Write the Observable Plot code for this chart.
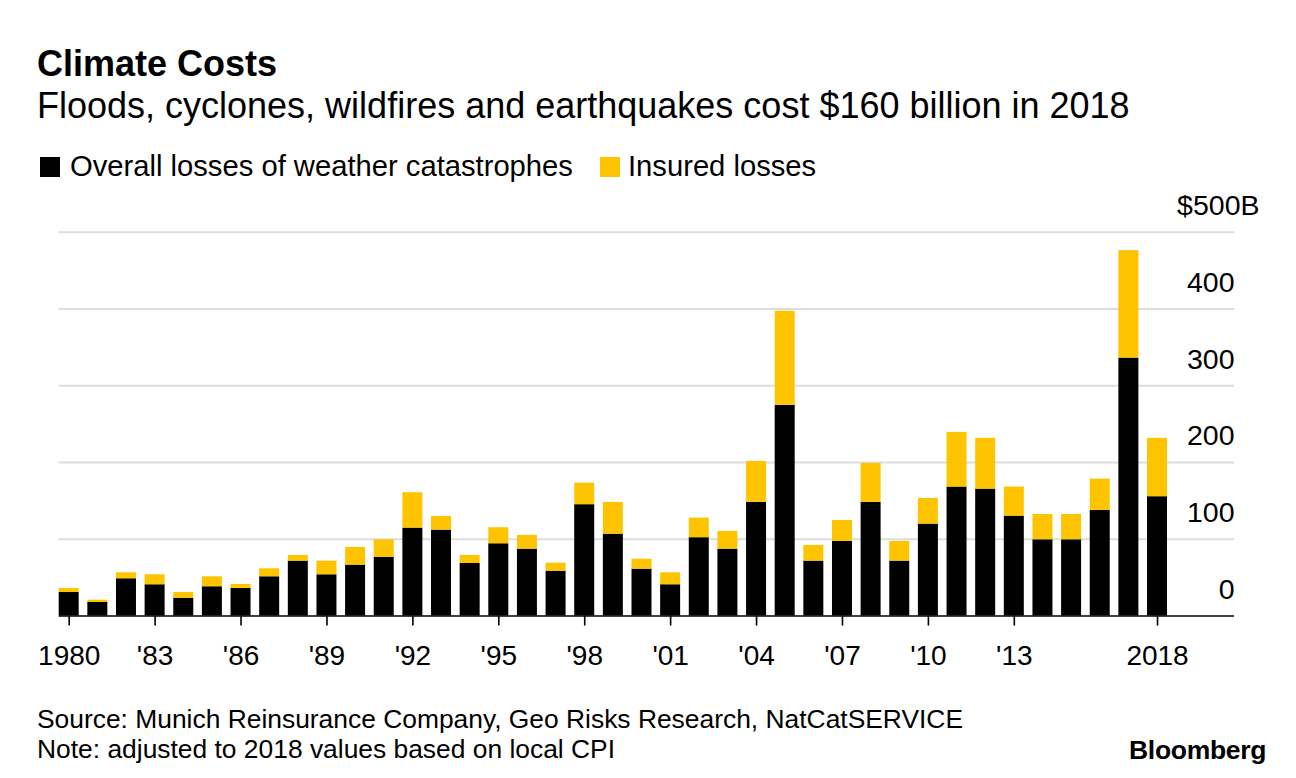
<!DOCTYPE html>
<html>
<head>
<meta charset="utf-8">
<script src="https://cdn.jsdelivr.net/npm/d3@7"></script>
<script src="https://cdn.jsdelivr.net/npm/@observablehq/plot@0.6"></script>
<style>
  html, body { margin: 0; padding: 0; background: #fff; }
  #wrap { position: relative; width: 1296px; height: 778px; font-family: "Liberation Sans", Arial, Helvetica, sans-serif; color: #000; overflow: hidden; }
  .abs { position: absolute; white-space: nowrap; line-height: 1; }
  #title { left: 37px; top: 46px; font-size: 36px; font-weight: bold; }
  #subtitle { left: 37px; top: 88px; font-size: 36px; }
  .sw { position: absolute; width: 20px; height: 20px; }
  .lg { font-size: 29.2px; }
  .foot { font-size: 26.4px; left: 37px; }
  #logo { left: 1129px; top: 737px; font-size: 26.5px; font-weight: bold; letter-spacing: -0.3px; }
  #chart { position: absolute; left: 0; top: 190px; }
</style>
</head>
<body>
<div id="wrap">
  <div class="abs" id="title">Climate Costs</div>
  <div class="abs" id="subtitle">Floods, cyclones, wildfires and earthquakes cost $160 billion in 2018</div>
  <div class="sw" style="left:40px;top:157px;background:#000"></div>
  <div class="abs lg" style="left:70px;top:152px">Overall losses of weather catastrophes</div>
  <div class="sw" style="left:600px;top:157px;background:#ffc400"></div>
  <div class="abs lg" style="left:628px;top:152px">Insured losses</div>
  <div id="chart"></div>
  <div class="abs foot" style="top:706px">Source: Munich Reinsurance Company, Geo Risks Research, NatCatSERVICE</div>
  <div class="abs foot" style="top:736px">Note: adjusted to 2018 values based on local CPI</div>
  <div class="abs" id="logo">Bloomberg</div>
</div>
<script>
const years = d3.range(1980, 2019);
const overall = [30.6, 17.6, 48.5, 40.7, 23.2, 38.1, 35.9, 51.1, 71.5, 53.7,
  66.3, 76.3, 114.5, 111.9, 68.4, 94.1, 87.1, 58.4, 145, 106.6,
  61, 40.7, 102, 87.1, 148, 274.4, 71.5, 97.1, 148, 71.5,
  119.7, 168, 165.3, 130.1, 99.3, 99.3, 137.5, 336, 155.4];
const insured = [5.3, 3.0, 7.8, 13.0, 7.4, 13.0, 5.2, 10.4, 7.4, 17.8,
  23.0, 23.0, 46.1, 17.8, 10.5, 20.9, 17.9, 10.4, 28.1, 41.4,
  13, 15.6, 25.5, 23.1, 53.4, 122.6, 20.4, 27.4, 50.8, 25.6,
  33.5, 71.2, 66.1, 37.9, 33, 33, 40.9, 140, 76];
const seriesNames = ["Overall losses of weather catastrophes", "Insured losses"];
const seriesColors = ["#000000", "#ffc400"];
const xTicks = [1980, 1983, 1986, 1989, 1992, 1995, 1998, 2001, 2004, 2007, 2010, 2013, 2018];
const yTicks = [0, 100, 200, 300, 400];
const yTopTick = 500;

const rows = years.map((yr, i) => ({year: yr, overall: overall[i], insured: insured[i]}));

const halfBar = 0.349; // half bar width in years (bar = 70% of a year slot)
const H = 490;
const chart = Plot.plot({
  width: 1296,
  height: H,
  marginLeft: 58.7,
  marginRight: 62,
  marginTop: 41.7,
  marginBottom: 64.5,
  style: {fontFamily: '"Liberation Sans", Arial, sans-serif', background: "transparent", overflow: "visible"},
  x: {type: "linear", domain: [1979.651, 2020.688], axis: null, label: null},
  y: {domain: [0, 500], axis: null},
  color: {domain: seriesNames, range: seriesColors},
  marks: [
    Plot.ruleY([100, 200, 300, 400, 500], {stroke: "#dddddd", strokeWidth: 2}),
    Plot.rectY(rows, {x1: d => d.year - halfBar, x2: d => d.year + halfBar, y1: 0, y2: "overall", fill: seriesColors[0]}),
    Plot.rectY(rows, {x1: d => d.year - halfBar, x2: d => d.year + halfBar, y1: "overall", y2: d => d.overall + d.insured, fill: seriesColors[1]}),
    Plot.ruleY([0], {stroke: "#000", strokeWidth: 1.6}),
    Plot.axisX(xTicks, {
      label: null, tickSize: 10, tickPadding: 19.5, fontSize: 28, stroke: "#000", strokeWidth: 1.6,
      tickFormat: d => (d === 1980 || d === 2018) ? String(d) : "'" + String(d).slice(2)
    }),
    Plot.text(yTicks, {y: d => d, text: d => String(d), frameAnchor: "right", textAnchor: "end", lineAnchor: "bottom", dy: -17, fontSize: 28.5, fill: "#000"}),
    Plot.text([yTopTick], {y: d => d, text: d => "$" + d + "B", frameAnchor: "right", textAnchor: "end", lineAnchor: "bottom", dy: -17, dx: 25, fontSize: 28.5, fill: "#000"})
  ]
});
document.getElementById("chart").appendChild(chart);
</script>
</body>
</html>
